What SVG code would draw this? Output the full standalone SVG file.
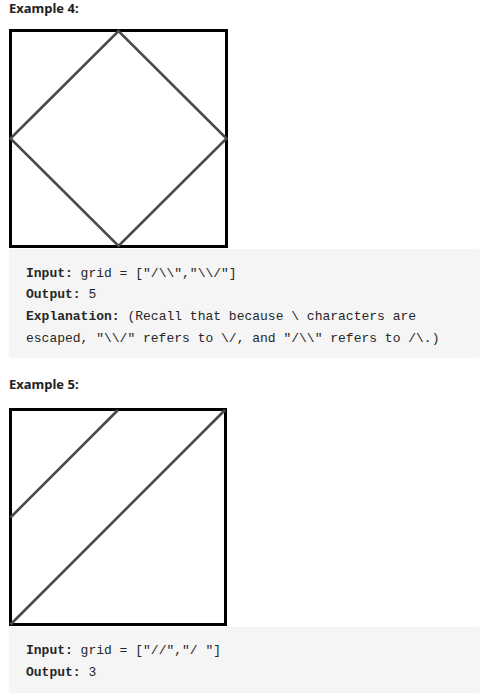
<svg xmlns="http://www.w3.org/2000/svg" width="482" height="698" viewBox="0 0 482 698">
<style>
.title{font-family:"Noto Sans","Open Sans",sans-serif;font-weight:bold;font-size:13px;fill:#222}
.code{font-family:"Liberation Mono","DejaVu Sans Mono",monospace;font-size:13px;fill:#262626;white-space:pre}
.b{font-weight:bold}
.box{fill:#fff;stroke:#000;stroke-width:3}
.diag{stroke:#4a4a4a;stroke-width:2.6;fill:none;stroke-linecap:butt}
.panel{fill:#f5f5f5}
</style>
<rect width="482" height="698" fill="#fff"/>
<g id="example4">
<text class="title" x="9" y="13">Example 4:</text>
<g id="grid4">
<rect class="box" x="10.5" y="30.5" width="216" height="216"/>
<path class="diag" d="M10.5 138.5 L118.5 31 L226.5 138.5 L118.5 246 Z"/>
</g>
<g id="panel4">
<rect class="panel" x="9" y="249" width="471" height="109" rx="3"/>
<text class="code" x="26" y="277"><tspan class="b">Input:</tspan> grid = ["/\\","\\/"]</text>
<text class="code" x="26" y="298"><tspan class="b">Output:</tspan> 5</text>
<text class="code" x="26" y="320"><tspan class="b">Explanation:</tspan> (Recall that because \ characters are</text>
<text class="code" x="26" y="342">escaped, "\\/" refers to \/, and "/\\" refers to /\.)</text>
</g>
</g>
<g id="example5">
<text class="title" x="9" y="389">Example 5:</text>
<g id="grid5">
<rect class="box" x="10.5" y="409.5" width="215" height="215"/>
<line class="diag" x1="118" y1="410" x2="10.5" y2="517.5"/>
<line class="diag" x1="225" y1="410" x2="10.5" y2="624.5"/>
</g>
<g id="panel5">
<rect class="panel" x="9" y="627" width="471" height="66" rx="3"/>
<text class="code" x="26" y="654"><tspan class="b">Input:</tspan> grid = ["//","/ "]</text>
<text class="code" x="26" y="676"><tspan class="b">Output:</tspan> 3</text>
</g>
</g>
</svg>
